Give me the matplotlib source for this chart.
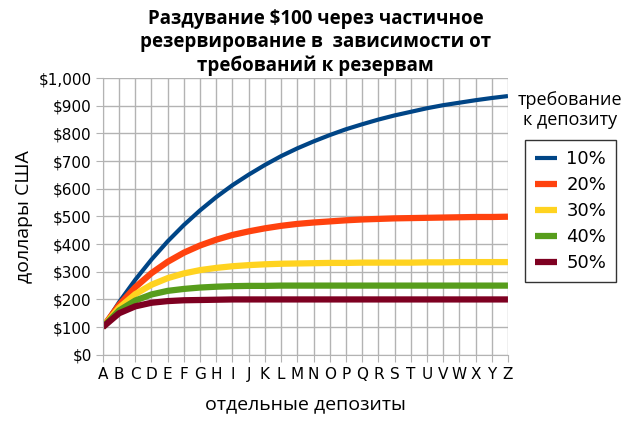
import numpy as np
import matplotlib.pyplot as plt
from matplotlib.ticker import FuncFormatter

# deposits A..Z
deposits = [chr(c) for c in range(ord('A'), ord('Z') + 1)]

# cumulative money per reserve requirement
r10 = [100, 190, 271, 344, 410, 469, 522, 570, 613, 651, 686, 718, 746,
       771, 794, 815, 833, 850, 865, 878, 891, 902, 911, 920, 928, 935]
r20 = [100, 180, 244, 295, 336, 369, 395, 416, 433, 446, 457, 466, 473,
       478, 482, 486, 489, 491, 493, 494, 495, 496, 497, 498, 498, 499]
r30 = [100, 170, 219, 253, 277, 294, 306, 314, 320, 324, 327, 329, 330,
       331, 332, 332, 333, 333, 333, 333, 334, 334, 335, 335, 335, 335]
r40 = [100, 160, 196, 218, 231, 238, 243, 246, 248, 249, 249, 250, 250,
       250, 250, 250, 250, 250, 250, 250, 250, 250, 250, 250, 250, 250]
r50 = [100, 150, 175, 188, 194, 197, 198, 199, 200, 200, 200, 200, 200,
       200, 200, 200, 200, 200, 200, 200, 200, 200, 200, 200, 200, 200]

series = [r10, r20, r30, r40, r50]
labels = ['10%', '20%', '30%', '40%', '50%']
colors = ['#004586', '#ff420e', '#ffd320', '#579d1c', '#7e0021']
widths = [3, 4.5, 4.5, 4.5, 4.5]

fig = plt.figure(figsize=(6.31, 4.29), dpi=100)
ax = fig.add_axes([0.163, 0.173, 0.642, 0.645])

x = np.arange(len(deposits))
for s, lab, c, w in zip(series, labels, colors, widths):
    ax.plot(x, s, color=c, lw=w, label=lab, solid_capstyle='butt')

ax.set_xlim(0, len(deposits) - 1)
ax.set_ylim(0, 1000)
ax.set_yticks(np.arange(0, 1001, 100))
ax.yaxis.set_major_formatter(FuncFormatter(lambda v, p: '${:,.0f}'.format(v)))
ax.set_xticks(x)
ax.set_xticklabels(deposits, fontsize=11, family='DejaVu Sans')
ax.tick_params(axis='y', labelsize=11, length=5, color='#b3b3b3', pad=3)
ax.tick_params(axis='x', length=5, color='#b3b3b3', pad=4)
ax.grid(True, color='#b3b3b3', lw=1)
ax.set_axisbelow(True)
for sp in ['top', 'right']:
    ax.spines[sp].set_visible(False)
for sp in ['left', 'bottom']:
    ax.spines[sp].set_color('#b3b3b3')

ax.set_ylabel('доллары США', fontsize=14, family='Open Sans', labelpad=4)
ax.set_xlabel('отдельные депозиты', fontsize=14, family='Open Sans', labelpad=9)

fig.text(0.5, 0.978, 'Раздувание $100 через частичное\nрезервирование в  зависимости от\nтребований к резервам',
         ha='center', va='top', fontsize=13.5, fontweight='bold', family='Open Sans',
         linespacing=1.2)

fig.text(0.903, 0.744, 'требование\nк депозиту', ha='center', va='center',
         fontsize=13, family='Open Sans', linespacing=1.15)
leg = ax.legend(loc='upper left', bbox_to_anchor=(1.042, 0.776), fontsize=13,
                frameon=True, fancybox=False, edgecolor='black',
                handlelength=1.25, handletextpad=0.5, borderpad=0.55,
                labelspacing=0.45, borderaxespad=0)
leg.get_frame().set_linewidth(1)

fig.savefig('out.png', dpi=100)
